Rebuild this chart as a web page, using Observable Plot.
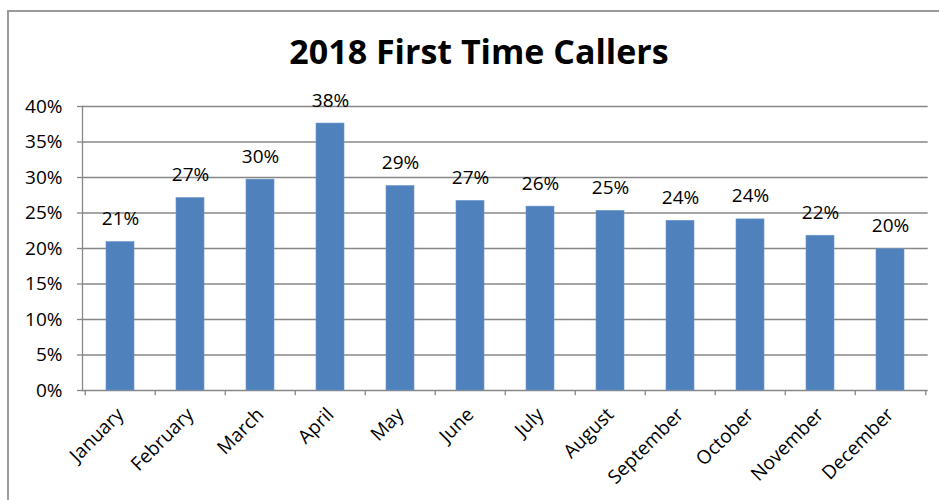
<!DOCTYPE html>
<html>
<head>
<meta charset="utf-8">
<script src="https://cdn.jsdelivr.net/npm/d3@7"></script>
<script src="https://cdn.jsdelivr.net/npm/@observablehq/plot@0.6"></script>
<style>
  html, body { margin: 0; padding: 0; background: #fff; width: 939px; height: 500px; overflow: hidden; }
  #frame { position: absolute; left: 7px; top: 10px; width: 960px; height: 520px; border-top: 2px solid #9a9a9a; border-left: 2px solid #9a9a9a; }
  #title { position: absolute; left: 0; top: 28px; width: 958px; text-align: center; font-family: "Open Sans", sans-serif; font-weight: bold; font-size: 34px; color: #000; }
  #chart { position: absolute; left: 0; top: 88px; }
</style>
</head>
<body>
<div id="frame"></div>
<div id="title">2018 First Time Callers</div>
<div id="chart"></div>
<script>
const months = ["January", "February", "March", "April", "May", "June", "July", "August", "September", "October", "November", "December"];
const values = [20.9, 27.1, 29.7, 37.6, 28.8, 26.7, 25.9, 25.3, 23.9, 24.1, 21.8, 19.9];
const yTicks = [0, 5, 10, 15, 20, 25, 30, 35, 40];

const data = months.map((m, i) => ({month: m, value: values[i]}));

const W = 939, H = 412, ML = 82, MR = 11.3, MT = 18, MB = 110;
const step = (W - ML - MR) / months.length;
const grey = "#878787";
const font = "Open Sans";

const chart = Plot.plot({
  width: W,
  height: H,
  marginLeft: ML,
  marginRight: MR,
  marginTop: MT,
  marginBottom: MB,
  style: {fontFamily: font, fontSize: "19px", color: "#000", background: "transparent"},
  x: {domain: months, paddingInner: 0.6, paddingOuter: 0.3},
  y: {domain: [0, 40]},
  marks: [
    Plot.gridY(yTicks, {stroke: grey, strokeOpacity: 1, strokeWidth: 1.3}),
    Plot.frame({anchor: "left", stroke: grey, strokeWidth: 1.3}),
    Plot.axisY({ticks: yTicks, tickSize: 5, tickPadding: 15, tickFormat: d => d + "%", label: null, fontSize: 19, stroke: grey, strokeWidth: 1.3}),
    Plot.barY(data, {x: "month", y: "value", fill: "#4F81BD", stroke: "#6c95c8", strokeWidth: 0.6}),
    Plot.ruleX(months, {x: d => d, y1: 0, y2: -0.75, dx: -step / 2, stroke: grey, strokeWidth: 1.3}),
    Plot.ruleX(months.slice(-1), {x: d => d, y1: 0, y2: -0.75, dx: step / 2, stroke: grey, strokeWidth: 1.3}),
    Plot.text(data, {x: "month", y: "value", text: d => Math.round(d.value) + "%", dy: -23, lineAnchor: "middle", fontSize: 19, fill: "#000"}),
    Plot.axisX({tickSize: 0, tickRotate: -45, tickPadding: 21, label: null, fontSize: 19})
  ]
});
document.getElementById("chart").appendChild(chart);
</script>
</body>
</html>
